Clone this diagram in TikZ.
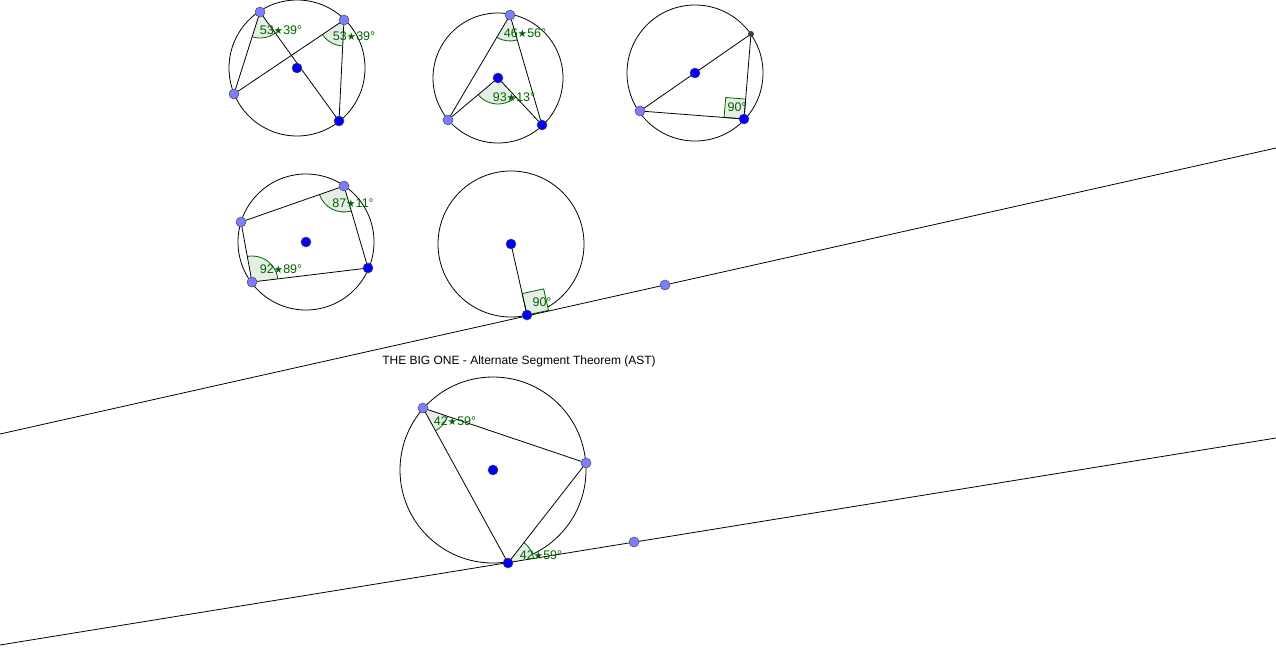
\documentclass[tikz,border=0pt]{standalone}
\usepackage{fontspec}
\setmainfont{Liberation Sans}
\newfontfamily\djv{DejaVu Sans}
\usetikzlibrary{angles,calc}
\definecolor{lpt}{RGB}{125,125,255}
\definecolor{dpt}{RGB}{0,0,255}
\definecolor{ag}{RGB}{0,100,0}
\newcommand{\st}{{\djv\scalebox{0.85}{★}}}
\tikzset{
 lp/.style={circle,draw=black!70,fill=lpt,inner sep=0pt,minimum size=10pt,line width=0.5pt},
 dp/.style={circle,draw=black!70,fill=dpt,inner sep=0pt,minimum size=10pt,line width=0.5pt},
 sp/.style={circle,fill=black!75,inner sep=0pt,minimum size=6pt},
 ln/.style={line width=0.8pt},
 ang/.style={draw=ag,fill=ag!10,line width=0.8pt,angle radius=26pt},
 lab/.style={text=ag,font=\fontsize{12.5}{14}\selectfont,inner sep=0pt},
}
\begin{document}
\begin{tikzpicture}[x=1pt,y=-1pt]
\useasboundingbox (0,0) rectangle (1276,653);
% circle 1
\coordinate (c1) at (297,68);
\draw[ln] (c1) circle (68);
\coordinate (a1) at (260,12); \coordinate (b1) at (344,20); \coordinate (d1) at (234,94); \coordinate (e1) at (339,121);
\pic[ang] {angle=d1--a1--e1};
\pic[ang] {angle=d1--b1--e1};
\draw[ln] (a1)--(d1) (a1)--(e1) (d1)--(b1) (b1)--(e1);
\node[lab] at (281,30) {53\st39°};
\node[lab] at (354,36) {53\st39°};
\node[dp] at (c1) {}; \node[lp] at (a1) {}; \node[lp] at (b1) {}; \node[lp] at (d1) {}; \node[dp] at (e1) {};
% circle 2
\coordinate (c2) at (498,78);
\draw[ln] (c2) circle (65);
\coordinate (a2) at (510,15); \coordinate (b2) at (448,120); \coordinate (d2) at (542,125);
\pic[ang] {angle=b2--a2--d2};
\pic[ang] {angle=b2--c2--d2};
\draw[ln] (a2)--(b2) (a2)--(d2) (c2)--(b2) (c2)--(d2);
\node[lab] at (525,33) {46\st56°};
\node[lab] at (514,97) {93\st13°};
\node[dp] at (c2) {}; \node[lp] at (a2) {}; \node[lp] at (b2) {}; \node[dp] at (d2) {};
% circle 3
\coordinate (c3) at (695,73);
\draw[ln] (c3) circle (68);
\coordinate (a3) at (751,34); \coordinate (b3) at (640,111); \coordinate (d3) at (744,119);
\draw[draw=ag,fill=ag!10,line width=0.8pt] (d3) -- ($(d3)!20pt!(a3)$) -- ($($(d3)!20pt!(a3)$)+($(d3)!20pt!(b3)$)-(d3)$) -- ($(d3)!20pt!(b3)$) -- cycle;
\draw[ln] (a3)--(b3) (a3)--(d3) (b3)--(d3);
\node[lab] at (737,107) {90°};
\node[dp] at (c3) {}; \node[sp] at (a3) {}; \node[lp] at (b3) {}; \node[dp] at (d3) {};
% circle 4
\coordinate (c4) at (306,242);
\draw[ln] (c4) circle (68);
\coordinate (a4) at (241,222); \coordinate (b4) at (344,186); \coordinate (d4) at (368,268); \coordinate (e4) at (252,282);
\pic[ang] {angle=a4--b4--d4};
\pic[ang] {angle=d4--e4--a4};
\draw[ln] (a4)--(b4)--(d4)--(e4)--cycle;
\node[lab] at (353,203) {87\st11°};
\node[lab] at (281,269) {92\st89°};
\node[dp] at (c4) {}; \node[lp] at (a4) {}; \node[lp] at (b4) {}; \node[dp] at (d4) {}; \node[lp] at (e4) {};
% circle 5
\coordinate (c5) at (511,244);
\draw[ln] (c5) circle (73);
\coordinate (t5) at (527,315); \coordinate (p5) at (665,285);
\coordinate (l5a) at (0,434); \coordinate (l5b) at (1276,148);
\draw[draw=ag,fill=ag!10,line width=0.8pt] (t5) -- ($(t5)!22pt!(p5)$) -- ($($(t5)!22pt!(p5)$)+($(t5)!22pt!(c5)$)-(t5)$) -- ($(t5)!22pt!(c5)$) -- cycle;
\draw[ln] (l5a)--(l5b);
\draw[ln] (c5)--(t5);
\node[lab] at (542,302) {90°};
\node[dp] at (c5) {}; \node[dp] at (t5) {}; \node[lp] at (p5) {};
% title
\node[font=\fontsize{12}{14}\selectfont,inner sep=0pt] (title) at (519,361) {THE BIG ONE - Alternate Segment Theorem (AST)};
% circle 6
\coordinate (c6) at (493,470);
\draw[ln] (c6) circle (93);
\coordinate (a6) at (423,408); \coordinate (b6) at (586,463); \coordinate (t6) at (508,563); \coordinate (p6) at (634,542);
\coordinate (l6a) at (0,645); \coordinate (l6b) at (1276,438);
\pic[ang] {angle=t6--a6--b6};
\pic[ang] {angle=p6--t6--b6};
\draw[ln] (a6)--(b6)--(t6)--cycle;
\draw[ln] (l6a)--(l6b);
\node[lab] at (455,421) {42\st59°};
\node[lab] at (541,555) {42\st59°};
\node[dp] at (c6) {}; \node[lp] at (a6) {}; \node[lp] at (b6) {}; \node[dp] at (t6) {}; \node[lp] at (p6) {};
\end{tikzpicture}
\end{document}
